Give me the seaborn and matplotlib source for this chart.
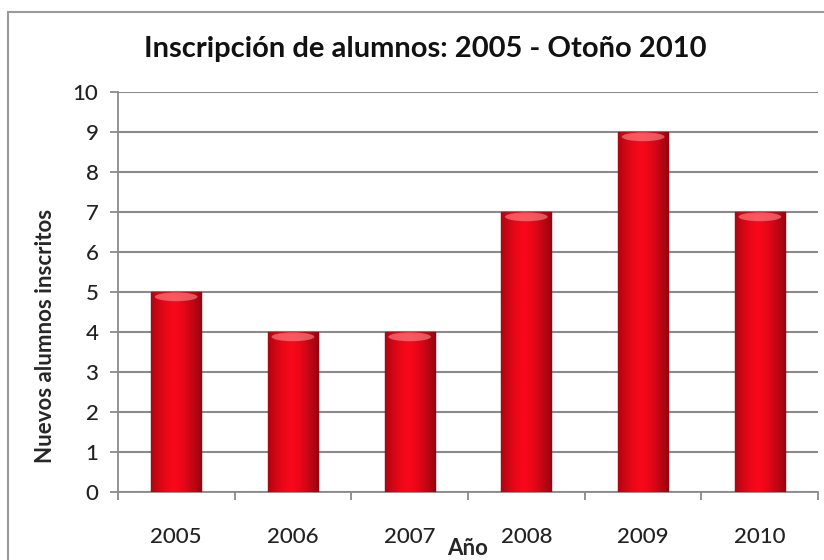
import numpy as np
import pandas as pd
import matplotlib
matplotlib.use("Agg")
import matplotlib.pyplot as plt
from matplotlib.patches import Rectangle, Ellipse
from matplotlib.ticker import FixedLocator
import seaborn as sns

# datos
anios = ["2005", "2006", "2007", "2008", "2009", "2010"]
inscritos = [5, 4, 4, 7, 9, 7]
y_ticks = list(range(0, 11))

df = pd.DataFrame({"Año": anios, "Nuevos alumnos inscritos": inscritos})

sns.set_style("white")
plt.rcParams['font.family'] = ['Lato', 'DejaVu Sans']

fig = plt.figure(figsize=(8.24, 5.6), dpi=100)
ax = fig.add_axes([0.143, 0.1214, 0.850, 0.7143])

# marco exterior del grafico
fig.patches.append(Rectangle((8 / 824, -0.05), 1.2, 1 - 12 / 560 + 0.05,
                             transform=fig.transFigure, fill=False,
                             edgecolor="#9a9a9a", linewidth=1.5, zorder=0))

sns.barplot(data=df, x="Año", y="Nuevos alumnos inscritos", ax=ax,
            color="#e8101f", width=0.43, edgecolor="#8c0010",
            linewidth=1.0, saturation=1, zorder=3)

# degradado tipo cilindro dentro de cada barra
grad = np.linspace(0, 1, 64)
shade = 1 - 0.55 * np.abs(grad - 0.45) ** 1.6 * 2
cmap_img = np.zeros((1, 64, 4))
cmap_img[0, :, 0] = 0.92 * shade + 0.05
cmap_img[0, :, 1] = 0.03 * shade
cmap_img[0, :, 2] = 0.10 * shade
cmap_img[0, :, 3] = 1
for p in ax.patches:
    x0, w, h = p.get_x(), p.get_width(), p.get_height()
    im = ax.imshow(cmap_img, extent=[x0, x0 + w, 0, h], aspect="auto",
                   zorder=3.5, interpolation="bicubic")
    im.set_clip_path(p)
    # brillo superior
    ax.add_patch(Ellipse((x0 + w / 2, h - 0.12), w * 0.85, 0.22,
                         facecolor="#ff9a9a", alpha=0.55,
                         edgecolor="none", zorder=3.6))
ax.set_xlim(-0.5, len(anios) - 0.5)
ax.set_ylim(0, 10)
ax.set_yticks(y_ticks)
ax.yaxis.grid(True, color="#8a8a8a", linewidth=1.5)
ax.set_axisbelow(True)

for s in ["top", "right"]:
    ax.spines[s].set_visible(False)
for s in ["left", "bottom"]:
    ax.spines[s].set_color("#8a8a8a")
    ax.spines[s].set_linewidth(1.3)

ax.tick_params(axis="y", which="major", direction="out", length=6, width=1.3,
               color="#8a8a8a", labelsize=16, labelcolor="#222222", pad=8, left=True)
ax.tick_params(axis="x", which="major", length=0, labelsize=16,
               labelcolor="#222222", pad=25)
for lbl in ax.get_xticklabels() + ax.get_yticklabels():
    lbl.set_fontweight("medium")
ax.xaxis.set_minor_locator(FixedLocator(np.arange(len(anios) + 1) - 0.5))
ax.tick_params(axis="x", which="minor", direction="out", length=6, width=1.3,
               color="#8a8a8a", bottom=True)

ax.set_xlabel("Año", fontsize=16, fontweight="bold", labelpad=-6)
ax.set_ylabel("Nuevos alumnos inscritos", fontsize=16, fontweight="bold")
ax.yaxis.set_label_coords(-0.088, 0.39)

fig.text(0.516, 0.912, "Inscripción de alumnos: 2005 - Otoño 2010",
         ha="center", va="center", fontsize=21, fontweight="bold", color="#111111")

fig.savefig("out.png", dpi=100)
